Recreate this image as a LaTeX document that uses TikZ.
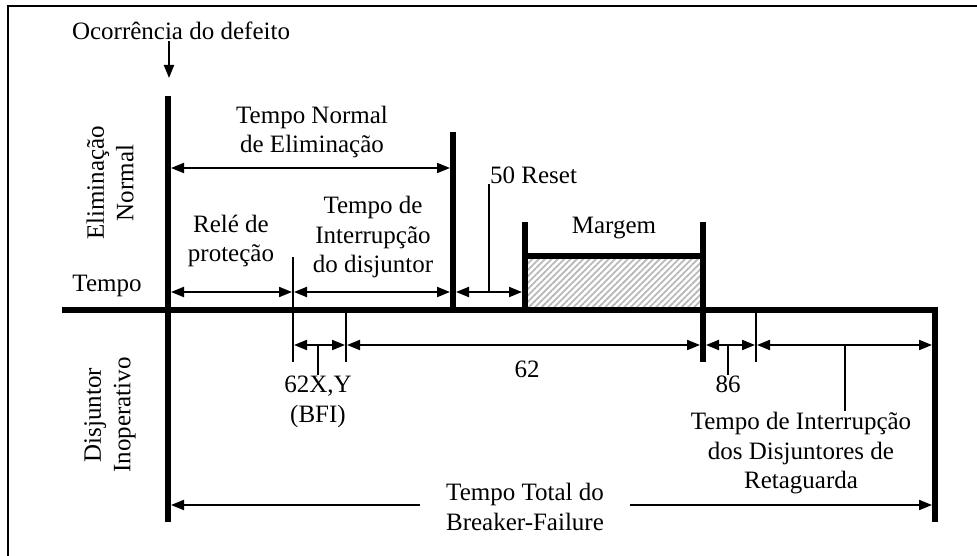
\documentclass[tikz,border=0pt]{standalone}
\usepackage{fontspec}
\setmainfont{Liberation Serif}
\usetikzlibrary{arrows.meta,patterns.meta}

\begin{document}
\begin{tikzpicture}[x=1pt,y=-1pt,
  txt/.style={align=center,inner sep=1pt,font=\fontsize{25}{29.5}\selectfont},
  bar/.style={line width=6pt},
  tick/.style={line width=2pt},
  tip/.tip={Triangle[length=13pt,width=10pt]},
  dim/.style={line width=2pt,tip-tip,shorten <=1pt,shorten >=1pt},
  hatch/.style={pattern={Lines[angle=45,distance=4.5pt,line width=1.8pt]},pattern color=gray!55}]
\useasboundingbox (0,0) rectangle (977,556);
\draw[line width=2pt] (8,556) -- (8,6) -- (977,6);
% time marks on the axis
\coordinate (t0) at (168,310); \coordinate (t1) at (293,310);
\coordinate (t2) at (346,310); \coordinate (t3) at (453,310);
\coordinate (t4) at (525,310); \coordinate (t5) at (703,310);
\coordinate (t6) at (756,310); \coordinate (t7) at (935,310);
% levels of the dimension arrows
\coordinate (yN) at (0,168); \coordinate (yA) at (0,292);
\coordinate (yB) at (0,345); \coordinate (yT) at (0,505);
% labels
\node[txt] (ocor) at (181,31) {Ocorrência do defeito};
\node[txt,rotate=90] (elim) at (110,183) {Eliminação\\Normal};
\node[txt,rotate=90] (inop) at (110,415) {Disjuntor\\Inoperativo};
\node[txt] (tempo) at (107,286) {Tempo};
\node[txt] (nrm) at (312,132) {Tempo Normal\\de Eliminação};
\node[txt] (rele) at (231,241) {Relé de\\proteção};
\node[txt] (intr) at (373,237) {Tempo de\\Interrupção\\do disjuntor};
\node[txt,anchor=base west] (reset) at (489,184) {50 Reset};
\node[txt] (margem) at (614,228) {Margem};
\node[txt] (d62) at (527,369) {62};
\node[txt,anchor=north] (bfi) at (318,375) {62X,Y\\(BFI)};
\node[txt,anchor=north] (d86) at (728,375) {86};
\node[txt,anchor=north] (bkp) at (801,411) {Tempo de Interrupção\\dos Disjuntores de\\Retaguarda};
\node[txt,inner xsep=26pt] (total) at (525,507) {Tempo Total do\\Breaker-Failure};
% fault
\coordinate (flt) at (169,78);
\draw[tick,-tip] (ocor.south -| flt) -- (flt);
% margin box
\fill[hatch] (525,256) rectangle (t5);
\draw[bar] (525,222) -- (t4);
\draw[bar] (703,222) -- (703,362);
\draw[bar] (525,256) -- (703,256);
% axis and bars
\draw[bar,line join=miter] (62,310) -- (t7) -- (935,522);
\draw[bar] (168,96) -- (168,522);
\draw[bar] (453,132) -- (t3);
\draw[tick] (293,257) -- (t1 |- 0,362);
\draw[tick] (t2) -- (346,362);
\draw[tick] (t6) -- (756,362);
% dimensions
\draw[dim,shorten <=3pt,shorten >=3pt] (t0 |- yN) -- (t3 |- yN);
\draw[dim,shorten <=3pt] (t0 |- yA) -- (t1 |- yA);
\draw[dim,shorten >=3pt] (t1 |- yA) -- (t3 |- yA);
\draw[dim,shorten <=3pt,shorten >=3pt] (t3 |- yA) -- (t4 |- yA);
\draw[tick] (reset.base west |- yA) -- (reset.base west);
\draw[dim] (t1 |- yB) -- (t2 |- yB);
\draw[dim,shorten >=3pt] (t2 |- yB) -- (t5 |- yB);
\draw[dim,shorten <=3pt] (t5 |- yB) -- (t6 |- yB);
\draw[dim,shorten >=3pt] (t6 |- yB) -- (t7 |- yB);
\draw[tick] (bfi.north |- yB) -- (bfi.north);
\draw[tick] (d86.north |- yB) -- (d86.north);
\coordinate (bk) at (845,345);
\draw[tick] (bk) -- (bk |- bkp.north);
\draw[tick,-tip,shorten >=3pt] (total.west |- yT) -- (t0 |- yT);
\draw[tick,-tip,shorten >=3pt] (total.east |- yT) -- (t7 |- yT);
\end{tikzpicture}
\end{document}
